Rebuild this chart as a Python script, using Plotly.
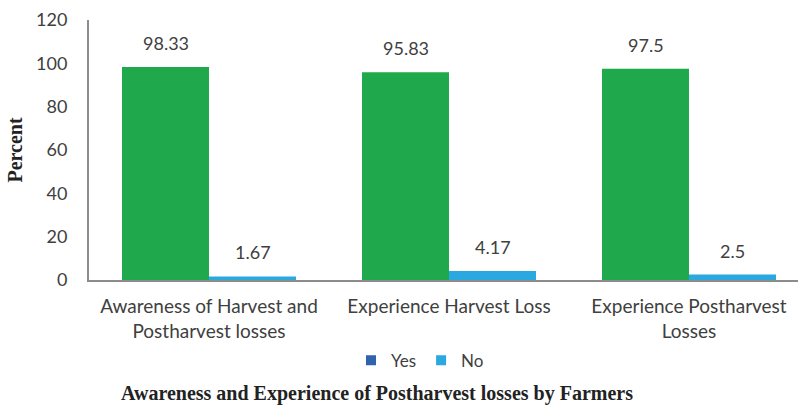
import plotly.graph_objects as go

categories = [
    "Awareness of Harvest and<br>Postharvest losses",
    "Experience Harvest Loss",
    "Experience Postharvest<br>Losses",
]
yes_values = [98.33, 95.83, 97.5]
no_values = [1.67, 4.17, 2.5]
y_ticks = [0, 20, 40, 60, 80, 100, 120]

GREEN = "#1FA84C"
LIGHT_BLUE = "#2AA9E0"
DARK_BLUE = "#3162AE"
TEXT = "#404040"
SANS = "Lato, 'Open Sans', sans-serif"
SERIF = "'Liberation Serif', 'Times New Roman', serif"

fig = go.Figure()
fig.add_trace(go.Bar(x=categories, y=yes_values, name="Yes",
                     marker=dict(color=GREEN, line=dict(width=0)),
                     showlegend=False))
fig.add_trace(go.Bar(x=categories, y=no_values, name="No",
                     marker=dict(color=LIGHT_BLUE, line=dict(width=0)),
                     showlegend=False))

# legend entries
fig.add_trace(go.Scatter(x=[categories[0]], y=[None], mode="markers", name="Yes",
                         marker=dict(symbol="square", size=10, color=DARK_BLUE)))
fig.add_trace(go.Scatter(x=[categories[0]], y=[None], mode="markers", name="No",
                         marker=dict(symbol="square", size=10, color=LIGHT_BLUE)))

# value labels above bars
group_frac = 0.725
bar_px = 87
for cat, yv, nv in zip(categories, yes_values, no_values):
    for val, shift in ((yv, -bar_px / 2), (nv, bar_px / 2)):
        fig.add_annotation(x=cat, y=val, text=f"{val:g}", showarrow=False,
                           xshift=shift, yshift=11, yanchor="bottom",
                           font=dict(family=SANS, size=18, color=TEXT))

fig.add_annotation(x=(377 - 89) / 709, xref="paper", y=-0.435, yref="paper",
                   text="<b>Awareness and Experience of Postharvest losses by Farmers</b>",
                   showarrow=False, xanchor="center", yanchor="middle",
                   font=dict(family=SERIF, size=20, color="#222222"))

fig.update_layout(
    width=798, height=410,
    margin=dict(l=89, r=0, t=20, b=130),
    paper_bgcolor="white", plot_bgcolor="white",
    barmode="group", bargap=1 - group_frac, bargroupgap=0,
    showlegend=True,
    legend=dict(orientation="h", x=(420 - 89) / 709, xref="paper", xanchor="center",
                y=-0.31, yanchor="middle",
                font=dict(family=SANS, size=17, color=TEXT),
                itemwidth=30, bgcolor="rgba(0,0,0,0)"),
    xaxis=dict(type="category", range=[-0.5, -0.5 + 709 / 240],
               showline=True, linecolor="#8c8c8c", linewidth=2,
               showgrid=False, ticks="", zeroline=False, ticklabelstandoff=8,
               tickfont=dict(family=SANS, size=19, color=TEXT)),
    yaxis=dict(range=[0, 120], tickvals=y_ticks, showline=True,
               linecolor="#8c8c8c", linewidth=2, showgrid=False, ticks="",
               zeroline=False, ticklabelstandoff=16,
               tickfont=dict(family=SANS, size=18, color=TEXT),
               title=dict(text="<b>Percent</b>", standoff=8,
                          font=dict(family=SERIF, size=20, color="#222222"))),
)

fig.write_html("out.html")
